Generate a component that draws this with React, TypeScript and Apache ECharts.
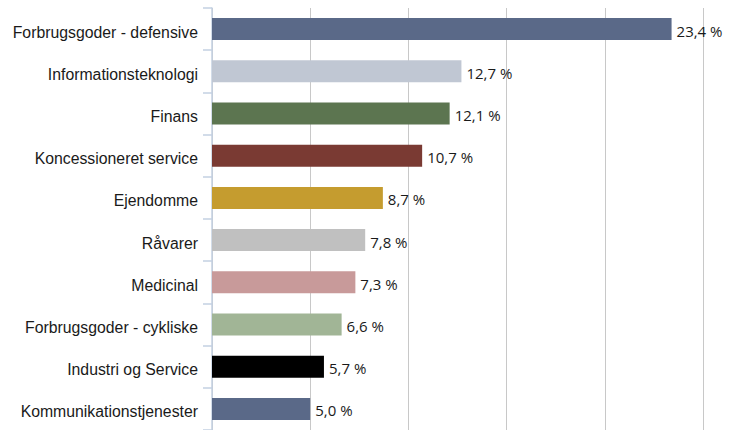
import React, { useEffect, useRef } from "react";
import * as echarts from "echarts";

const categories = [
  "Forbrugsgoder - defensive",
  "Informationsteknologi",
  "Finans",
  "Koncessioneret service",
  "Ejendomme",
  "Råvarer",
  "Medicinal",
  "Forbrugsgoder - cykliske",
  "Industri og Service",
  "Kommunikationstjenester",
];
const values = [23.4, 12.7, 12.1, 10.7, 8.7, 7.8, 7.3, 6.6, 5.7, 5.0];
const colors = [
  "#5a6988",
  "#c0c7d3",
  "#5c7550",
  "#7a3a33",
  "#c59c2f",
  "#c0c0c0",
  "#c89a9a",
  "#a1b596",
  "#000000",
  "#5a6988",
];

export default function App() {
  const ref = useRef<HTMLDivElement>(null);
  useEffect(() => {
    document.body.style.margin = "0";
    const chart = echarts.init(ref.current!, null, { renderer: "svg" });
    chart.setOption({
      animation: false,
      grid: { left: 212, right: 33, top: 8, height: 424, containLabel: false },
      xAxis: {
        type: "value",
        min: 0,
        max: 25,
        interval: 5,
        axisLabel: { show: false },
        axisLine: { show: false },
        axisTick: { show: false },
        splitLine: { show: true, lineStyle: { color: "#c8c8c8", width: 1 } },
      },
      yAxis: {
        type: "category",
        data: categories,
        inverse: true,
        axisLine: { show: true, lineStyle: { color: "#c3d1e2", width: 1.5 } },
        axisTick: { show: true, length: 9, lineStyle: { color: "#c3d1e2", width: 1.5 } },
        axisLabel: {
          margin: 14,
          color: "#1a1a1a",
          fontFamily: "Liberation Sans, Arial, sans-serif",
          fontSize: 15.8,
          verticalAlign: "top",
          lineHeight: 6,
        },
      },
      series: [
        {
          type: "bar",
          barWidth: 22,
          data: values.map((v, i) => ({ value: v, itemStyle: { color: colors[i] } })),
          label: {
            show: true,
            position: "right",
            distance: 5,
            color: "#1a1a1a",
            fontFamily: "Open Sans, sans-serif",
            fontSize: 15,
            verticalAlign: "top",
            lineHeight: 3,
            formatter: (p: any) => p.value.toFixed(1).replace(".", ",") + " %",
          },
        },
      ],
    });
    return () => chart.dispose();
  }, []);
  return <div ref={ref} style={{ width: 736, height: 430 }} />;
}
